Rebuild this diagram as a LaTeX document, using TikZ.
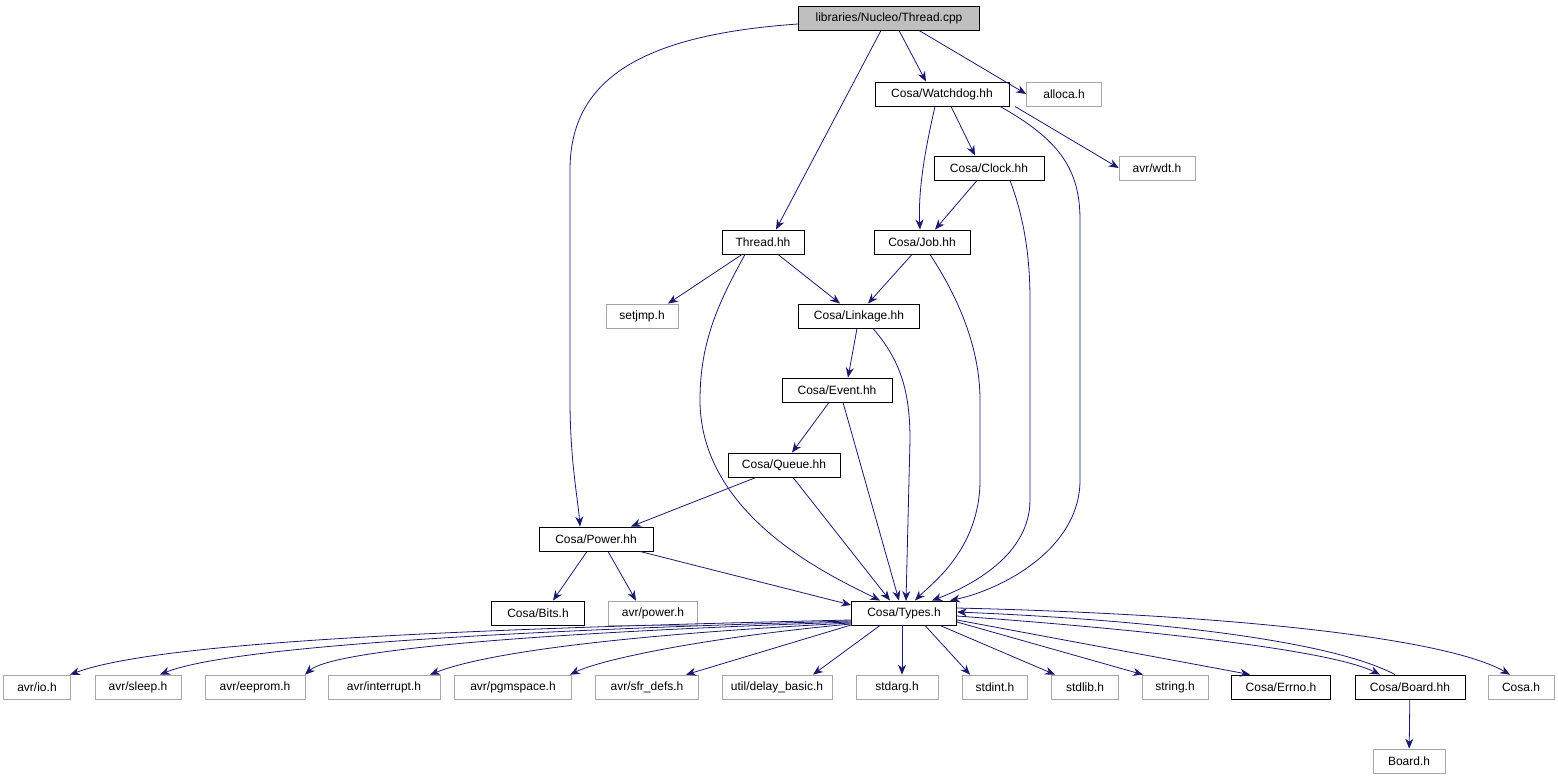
\documentclass[tikz,border=0pt]{standalone}
\usepackage{fontspec}
\setmainfont{Liberation Sans}
\usetikzlibrary{arrows.meta}
\definecolor{eb}{HTML}{191970}
\begin{document}
\begin{tikzpicture}[x=1pt,y=-1pt,
  n/.style={draw=black,fill=white,minimum height=24pt,inner sep=0pt,font=\fontsize{12}{14}\selectfont,line width=0.9pt},
  g/.style={n,draw=gray!70,line width=0.7pt},
  e/.style={draw=eb,line width=0.8pt,-{Stealth[length=10pt,width=8pt]}}]
\useasboundingbox (0,0) rectangle (1558,784);
\node[n,fill=gray!50,minimum width=181pt] (cpp) at (889,18) {libraries/Nucleo/Thread.cpp};
\node[n,minimum width=134pt] (wd) at (942,94) {Cosa/Watchdog.hh};
\node[g,minimum width=75pt] (al) at (1064,94) {alloca.h};
\node[n,minimum width=110pt] (ck) at (989,168) {Cosa/Clock.hh};
\node[g,minimum width=76pt] (wdt) at (1157,168) {avr/wdt.h};
\node[n,minimum width=82pt] (th) at (763,242) {Thread.hh};
\node[n,minimum width=96pt] (jb) at (922,242) {Cosa/Job.hh};
\node[g,minimum width=72pt] (sj) at (642,316) {setjmp.h};
\node[n,minimum width=121pt] (lk) at (859,316) {Cosa/Linkage.hh};
\node[n,minimum width=110pt] (ev) at (837,390) {Cosa/Event.hh};
\node[n,minimum width=112pt] (qu) at (784,465) {Cosa/Queue.hh};
\node[n,minimum width=114pt] (pw) at (596,539) {Cosa/Power.hh};
\node[n,minimum width=93pt] (bt) at (538,613) {Cosa/Bits.h};
\node[g,minimum width=89pt] (ap) at (653,613) {avr/power.h};
\node[n,minimum width=105pt] (ty) at (904,613) {Cosa/Types.h};
\node[g,minimum width=67pt] (b1) at (37,687) {avr/io.h};
\node[g,minimum width=86pt] (b2) at (138,687) {avr/sleep.h};
\node[g,minimum width=100pt] (b3) at (255,687) {avr/eeprom.h};
\node[g,minimum width=112pt] (b4) at (384,687) {avr/interrupt.h};
\node[g,minimum width=117pt] (b5) at (513,687) {avr/pgmspace.h};
\node[g,minimum width=103pt] (b6) at (647,687) {avr/sfr\_defs.h};
\node[g,minimum width=110pt] (b7) at (777,687) {util/delay\_basic.h};
\node[g,minimum width=82pt] (b8) at (897,687) {stdarg.h};
\node[g,minimum width=65pt] (b9) at (995,687) {stdint.h};
\node[g,minimum width=67pt] (b10) at (1085,687) {stdlib.h};
\node[g,minimum width=66pt] (b11) at (1175,687) {string.h};
\node[n,minimum width=99pt] (er) at (1281,687) {Cosa/Errno.h};
\node[n,minimum width=110pt] (bd) at (1410,687) {Cosa/Board.hh};
\node[g,minimum width=66pt] (co) at (1521,687) {Cosa.h};
\node[g,minimum width=72pt] (bh) at (1409,761) {Board.h};

\draw[e] (cpp.west) ++(0,6) .. controls (640,35) and (570,80) .. (570,170) -- (570,400) .. controls (570,460) and (578,500) .. (pw.north -| 580,0);
\draw[e] (cpp.south -| 881,0) -- (th.north -| 776,0);
\draw[e] (cpp.south -| 899,0) -- (wd.north -| 926,0);
\draw[e] (cpp.south -| 919,0) -- (al.west);
\draw[e] (wd.south -| 951,0) -- (ck.north -| 975,0);
\draw[e] (wd.south -| 1015,0) -- (wdt.west);
\draw[e] (wd.south -| 935,0) .. controls (925,150) and (918,190) .. (jb.north -| 920,0);
\draw[e] (wd.south -| 1000,0) .. controls (1060,140) and (1080,170) .. (1080,220) -- (1080,480) .. controls (1080,550) and (1000,590) .. (ty.north -| 950,0);
\draw[e] (ck.south -| 977,0) -- (jb.north -| 935,0);
\draw[e] (ck.south -| 1010,0) .. controls (1025,220) and (1030,260) .. (1030,300) -- (1030,500) .. controls (1030,560) and (960,590) .. (ty.north -| 932,0);
\draw[e] (jb.south -| 912,0) -- (lk.north -| 868,0);
\draw[e] (jb.south -| 930,0) .. controls (960,300) and (980,350) .. (980,400) -- (980,480) .. controls (980,550) and (930,585) .. (ty.north -| 915,0);
\draw[e] (th.south -| 742,0) -- (sj.north -| 668,0);
\draw[e] (th.south -| 778,0) -- (lk.north -| 840,0);
\draw[e] (th.south -| 745,0) .. controls (720,300) and (700,340) .. (700,400) .. controls (700,520) and (840,580) .. (ty.north -| 880,0);
\draw[e] (lk.south -| 857,0) -- (ev.north -| 848,0);
\draw[e] (lk.south -| 873,0) .. controls (900,360) and (910,390) .. (910,440) -- (906,601);
\draw[e] (ev.south -| 829,0) -- (qu.north -| 792,0);
\draw[e] (ev.south -| 843,0) -- (ty.north -| 899,0);
\draw[e] (qu.south -| 756,0) -- (pw.north -| 631,0);
\draw[e] (qu.south -| 793,0) -- (ty.north -| 890,0);
\draw[e] (pw.south -| 587,0) -- (bt.north -| 553,0);
\draw[e] (pw.south -| 608,0) -- (ap.north -| 636,0);
\draw[e] (pw.south -| 640,0) -- (ty.west |- 0,605);
\draw[e] (ty.west |- 0,620) .. controls (400,630) and (150,645) .. (b1.north -| 70,0);
\draw[e] (ty.west |- 0,621) .. controls (450,632) and (220,650) .. (b2.north -| 160,0);
\draw[e] (ty.west |- 0,622) .. controls (500,634) and (330,652) .. (b3.north -| 305,0);
\draw[e] (ty.west |- 0,623) .. controls (600,636) and (480,655) .. (b4.north -| 430,0);
\draw[e] (ty.west |- 0,624) .. controls (700,638) and (600,660) .. (b5.north -| 570,0);
\draw[e] (ty.west |- 0,625) -- (b6.north -| 686,0);
\draw[e] (ty.south -| 880,0) -- (b7.north -| 813,0);
\draw[e] (ty.south -| 902,0) -- (b8.north -| 902,0);
\draw[e] (ty.south -| 925,0) -- (b9.north -| 970,0);
\draw[e] (ty.south -| 940,0) -- (b10.north -| 1055,0);
\draw[e] (ty.east |- 0,622) -- (b11.north -| 1143,0);
\draw[e] (ty.east |- 0,620) -- (er.north -| 1250,0);
\draw[e] (ty.east |- 0,616) .. controls (1150,630) and (1330,650) .. (bd.north -| 1380,0);
\draw[e] (bd.north -| 1395,0) .. controls (1330,640) and (1150,620) .. (ty.east |- 0,612);
\draw[e] (ty.east |- 0,608) .. controls (1250,615) and (1450,640) .. (co.north -| 1510,0);
\draw[e] (bd) -- (bh);
\end{tikzpicture}
\end{document}
